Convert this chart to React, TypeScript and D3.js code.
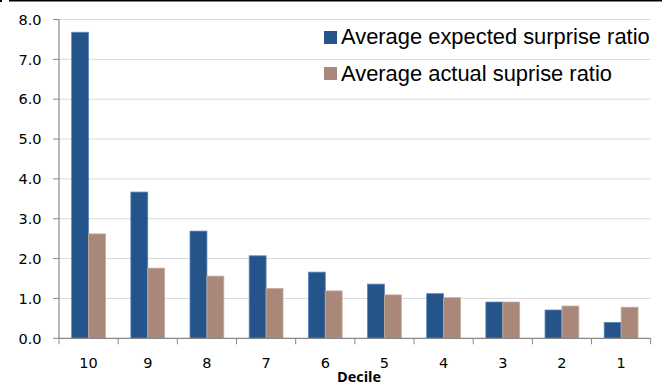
import React from "react";
import * as d3 from "d3";

const deciles = ["10", "9", "8", "7", "6", "5", "4", "3", "2", "1"];
const expected = [7.68, 3.67, 2.69, 2.07, 1.66, 1.36, 1.12, 0.91, 0.71, 0.4];
const actual = [2.62, 1.76, 1.56, 1.25, 1.19, 1.09, 1.02, 0.91, 0.81, 0.78];
const yTicks = [0, 1, 2, 3, 4, 5, 6, 7, 8];
const seriesNames = ["Average expected surprise ratio", "Average actual suprise ratio"];
const colors = ["#24548a", "#a98879"];
const strokes = ["#5b86b8", "#c4aca0"];

export default function App() {
  const W = 662, H = 385;
  const left = 59, right = 650.7, top = 19.5, bottom = 338.3;
  const x = d3.scaleBand<string>().domain(deciles).range([left, right]);
  const y = d3.scaleLinear().domain([0, 8]).range([bottom, top]);
  const bw = x.bandwidth();
  const barW = bw / 3.5;
  const offset = (bw - 2 * barW) / 2;
  const font = "'DejaVu Sans', sans-serif";
  return (
    <svg width={W} height={H} style={{ position: "absolute", left: 0, top: 0 }}>
      <rect width={W} height={H} fill="#fff" />
      <line x1={9} x2={W} y1={0.5} y2={0.5} stroke="#000" strokeWidth={2} />
      <rect x={0} y={0} width={2} height={2} fill="#000" />
      {yTicks.map((t) => (
        <g key={t}>
          {t > 0 && (
            <line x1={left} x2={right} y1={y(t)} y2={y(t)} stroke="#d9d9d9" strokeWidth={1} />
          )}
          <line x1={53} x2={left} y1={y(t)} y2={y(t)} stroke="#888" strokeWidth={1} />
          <text x={41.5} y={y(t)} dy="0.36em" textAnchor="end" fontFamily={font} fontSize={14.5} fill="#000">
            {t.toFixed(1)}
          </text>
        </g>
      ))}
      {deciles.map((d, i) => (
        <g key={d}>
          {[expected[i], actual[i]].map((v, s) => (
            <rect
              key={s}
              x={(x(d) as number) + offset + s * barW}
              y={y(v)}
              width={barW}
              height={bottom - y(v)}
              fill={colors[s]}
              stroke={strokes[s]}
              strokeWidth={0.8}
            />
          ))}
          <text x={(x(d) as number) + bw / 2} y={368} textAnchor="middle" fontFamily={font} fontSize={14.5} fill="#000">
            {d}
          </text>
        </g>
      ))}
      <line x1={left} x2={left} y1={top} y2={bottom} stroke="#888" strokeWidth={1.2} />
      <line x1={left} x2={right} y1={bottom} y2={bottom} stroke="#888" strokeWidth={1.2} />
      {d3.range(deciles.length + 1).map((i) => {
        const xx = left + i * bw;
        return <line key={i} x1={xx} x2={xx} y1={bottom} y2={bottom + 6} stroke="#888" strokeWidth={1} />;
      })}
      <text x={359} y={382} textAnchor="middle" fontFamily="'Open Sans', sans-serif" fontSize={14.5} fontWeight="bold" fill="#000">
        Decile
      </text>
      {seriesNames.map((n, s) => (
        <g key={n}>
          <rect x={324} y={31 + s * 36} width={13} height={13} fill={colors[s]} />
          <text x={341} y={43.5 + s * 37.5} fontFamily="'Liberation Sans', Arial, sans-serif" fontSize={21.9} fill="#000">
            {n}
          </text>
        </g>
      ))}
    </svg>
  );
}
